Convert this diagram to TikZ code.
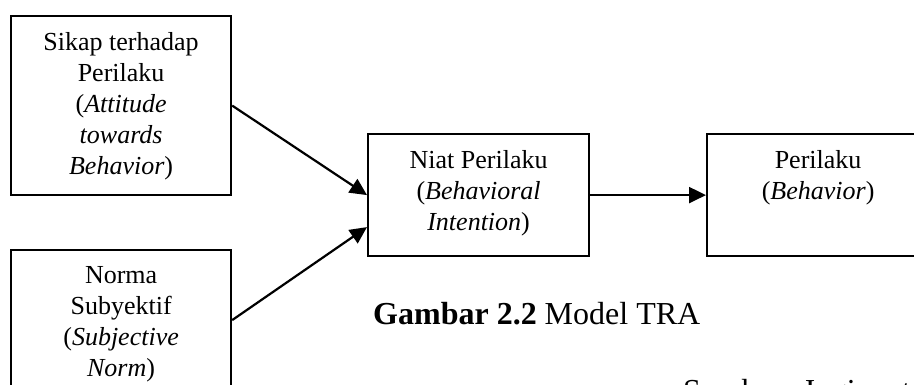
\documentclass[tikz,border=0pt]{standalone}
\usepackage{fontspec}
\setmainfont{Liberation Serif}
\usetikzlibrary{arrows.meta}

\tikzset{
  box/.style={draw=black, line width=2.2pt, inner sep=0pt, anchor=north west},
  boxtext/.style={anchor=north, inner sep=0pt, align=center,
    font=\fontsize{26}{31}\selectfont},
  link/.style={draw=black, line width=2.2pt,
    -{Triangle[length=17pt,width=16pt]}},
  bigtext/.style={inner sep=0pt, font=\fontsize{32}{38}\selectfont}
}

\begin{document}
\begin{tikzpicture}[x=1pt, y=-1pt]
  \useasboundingbox (0,0) rectangle (914,385);
  \clip (0,0) rectangle (914,385);

  % boxes
  \node[box, minimum width=220pt, minimum height=179pt] (att) at (10,15) {};
  \node[box, minimum width=220pt, minimum height=140pt] (norm) at (10,249) {};
  \node[box, minimum width=221pt, minimum height=122pt] (int) at (367,133) {};
  \node[box, minimum width=222pt, minimum height=122pt] (beh) at (706,133) {};

  % box texts
  \node[boxtext] (attT) at ([yshift=-17pt]att.north)
    {Sikap terhadap\\Perilaku\\(\textit{Attitude}\\\textit{towards}\\\textit{Behavior})};
  \node[boxtext] (normT) at ([yshift=-17pt]norm.north)
    {Norma\\Subyektif\\(\textit{Subjective}\\\textit{Norm})};
  \node[boxtext] (intT) at ([yshift=-17pt]int.north)
    {Niat Perilaku\\(\textit{Behavioral}\\\textit{Intention})};
  \node[boxtext] (behT) at ([yshift=-17pt]beh.north)
    {Perilaku\\(\textit{Behavior})};

  % connectors
  \draw[link] (att.east) -- (int.west);
  \draw[link] (norm.east) -- ([yshift=-32pt]int.west);
  \draw[link] (int.east) -- (beh.west);

  % caption and source
  \node[bigtext, anchor=base west] (cap) at (373,324)
    {\textbf{Gambar 2.2} Model TRA};
  \node[bigtext, anchor=base west] (src) at (683,401)
    {Sumber: Jogiyanto};
\end{tikzpicture}
\end{document}
